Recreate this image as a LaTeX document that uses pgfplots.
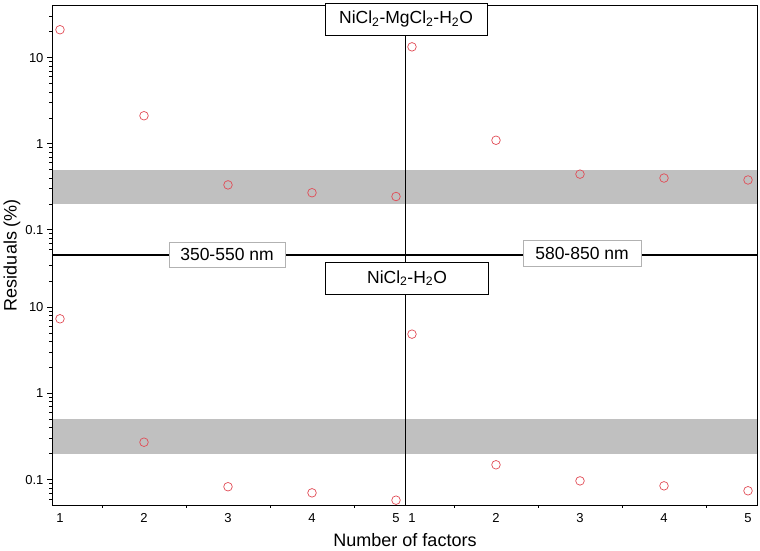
\documentclass[border=0pt]{standalone}
\usepackage{fontspec}
\setmainfont{Liberation Sans}
\usepackage{pgfplots}
\pgfplotsset{compat=1.18}
\definecolor{ptred}{RGB}{225,75,85}
\definecolor{bandgray}{RGB}{192,192,192}

\pgfplotsset{
  mybase/.style={
    scale only axis, ymin=0.051, ymax=40,
    axis on top, clip=true,
    axis line style={line width=1pt},
    tick align=outside,
    major tick length=5pt, minor tick length=3pt,
    tick style={black, line width=0.8pt},
    yticklabel style={font=\fontsize{13}{15}\selectfont},
    xticklabel style={font=\fontsize{13}{15}\selectfont},
  },
  myyax/.style={
    ytick={0.1,1,10}, yticklabels={0.1,1,10}, ytick pos=left,
    minor ytick={0.06,0.07,0.08,0.09,0.2,0.3,0.4,0.5,0.6,0.7,0.8,0.9,2,3,4,5,6,7,8,9,20,30}},
  mynoy/.style={ytick=\empty},
  myxax/.style={xtick={1,2,3,4,5}, xticklabels={1,2,3,4,5}, xtick pos=bottom,
    major x tick style={draw=none}, minor xtick={1.5,2.5,3.5,4.5}},
  mynox/.style={xtick=\empty},
  mypts/.style={only marks, mark=o, mark size=4.3pt, color=ptred, line width=0.7pt},
  myband/.style={draw=none, fill=bandgray, forget plot},
}
\pgfplotsset{/pgf/number format/assume math mode=true}

\begin{document}
\begin{tikzpicture}
\useasboundingbox (-52pt,-46pt) rectangle (708pt,505pt);

% top left: NiCl2-MgCl2-H2O, 350-550 nm
\begin{axis}[ymode=log, mybase, myyax, mynox, xmin=0.905, xmax=5.107,
  width=353pt, height=249pt, at={(0pt,250pt)}, anchor=south west]
\addplot[myband] coordinates {(0,0.2) (6,0.2) (6,0.5) (0,0.5)} -- cycle;
\addplot[mypts] coordinates {(1,21.2) (2,2.12) (3,0.333) (4,0.27) (5,0.244)};
\end{axis}

% top right: NiCl2-MgCl2-H2O, 580-850 nm
\begin{axis}[ymode=log, mybase, mynoy, mynox, xmin=0.917, xmax=5.107,
  width=352pt, height=249pt, at={(353pt,250pt)}, anchor=south west]
\addplot[myband] coordinates {(0,0.2) (6,0.2) (6,0.5) (0,0.5)} -- cycle;
\addplot[mypts] coordinates {(1,13.4) (2,1.1) (3,0.444) (4,0.40) (5,0.38)};
\end{axis}

% bottom left: NiCl2-H2O, 350-550 nm
\begin{axis}[ymode=log, mybase, myyax, myxax, xmin=0.905, xmax=5.107,
  width=353pt, height=250pt, at={(0pt,0pt)}, anchor=south west]
\addplot[myband] coordinates {(0,0.2) (6,0.2) (6,0.5) (0,0.5)} -- cycle;
\addplot[mypts] coordinates {(1,7.3) (2,0.272) (3,0.083) (4,0.0705) (5,0.058)};
\end{axis}

% bottom right: NiCl2-H2O, 580-850 nm
\begin{axis}[ymode=log, mybase, mynoy, myxax, xmin=0.917, xmax=5.107,
  width=352pt, height=250pt, at={(353pt,0pt)}, anchor=south west]
\addplot[myband] coordinates {(0,0.2) (6,0.2) (6,0.5) (0,0.5)} -- cycle;
\addplot[mypts] coordinates {(1,4.85) (2,0.149) (3,0.097) (4,0.085) (5,0.0745)};
\end{axis}

% labels
\node[draw=black, line width=0.8pt, fill=white, minimum width=162pt, minimum height=32pt,
  font=\fontsize{17.5}{20}\selectfont] at (354pt,486pt) {NiCl\textsubscript{2}-MgCl\textsubscript{2}-H\textsubscript{2}O};
\node[draw=black, line width=0.8pt, fill=white, minimum width=163pt, minimum height=32pt,
  font=\fontsize{17.5}{20}\selectfont] at (355pt,227pt) {NiCl\textsubscript{2}-H\textsubscript{2}O};
\node[draw=black!30, line width=0.6pt, fill=white, minimum width=116pt, minimum height=25pt,
  inner sep=0pt, font=\fontsize{17.5}{20}\selectfont] at (175pt,250.5pt) {350-550 nm};
\node[draw=black!30, line width=0.6pt, fill=white, minimum width=118pt, minimum height=26pt,
  inner sep=0pt, font=\fontsize{17.5}{20}\selectfont] at (530pt,252pt) {580-850 nm};

\node[rotate=90, font=\fontsize{18}{21}\selectfont] at (-40pt,250pt) {Residuals (\%)};
\node[font=\fontsize{18}{21}\selectfont] at (353pt,-35pt) {Number of factors};
\end{tikzpicture}
\end{document}
